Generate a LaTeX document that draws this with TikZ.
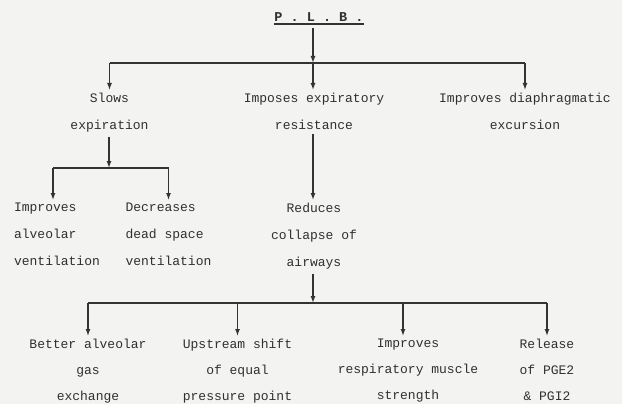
\documentclass[tikz,border=0pt]{standalone}
\usepackage{fontspec}
\setmonofont{Liberation Mono}
\usetikzlibrary{arrows.meta}
\definecolor{bg}{HTML}{F3F3F1}
\definecolor{ink}{HTML}{333333}
\definecolor{txt}{HTML}{303030}
\begin{document}
\begin{tikzpicture}[x=1pt,y=-1pt,
  lbl/.style={font=\ttfamily\fontsize{13}{27}\selectfont, text=txt, inner sep=0pt, anchor=north},
  low/.style={font=\ttfamily\fontsize{13}{26}\selectfont},
  ln/.style={draw=ink, line width=1.3pt},
  arrbar/.style={ln, -{Latex[length=7pt,width=5pt]}},
  arr/.style={arrbar, shorten >=3pt}]
\fill[bg] (0,0) rectangle (622,404);
\useasboundingbox (0,0) rectangle (622,404);

% title
\node[lbl, anchor=center, font=\ttfamily\bfseries\fontsize{13.5}{16}\selectfont] (plb) at (319,17) {P . L . B .};
\draw[ln] ([yshift=-2.5pt]plb.south west) -- ([yshift=-2.5pt]plb.south east);

% row 1
\node[lbl, align=center] (slows) at (109.5,93) {Slows\\expiration};
\node[lbl, align=center] (imposes) at (314,93) {Imposes expiratory\\resistance};
\node[lbl, align=center] (diaph) at (525,93) {Improves diaphragmatic\\excursion};

% row 2
\node[lbl, align=left] (alv) at (57,203) {Improves\\alveolar\\ventilation};
\node[lbl, align=left] (dead) at (168.5,203) {Decreases\\dead space\\ventilation};
\node[lbl, align=center] (reduces) at (314,203) {Reduces\\collapse of\\airways};

% row 3
\node[lbl, low, align=center] (better) at (88,339) {Better alveolar\\gas\\exchange};
\node[lbl, low, align=center] (upstream) at (237.5,339) {Upstream shift\\of equal\\pressure point};
\node[lbl, low, align=center] (resp) at (408,339) {Improves\\respiratory muscle\\strength};
\node[lbl, low, align=center] (release) at (547,339) {Release\\of PGE2\\\& PGI2};

% bar coordinates
\coordinate (b1) at (313,63);
\coordinate (b2) at (109,168);
\coordinate (b3) at (313,303);
\path (plb.south) ++(0,6) coordinate (plbs);
\path ([xshift=-4pt]alv.north) coordinate (alvT);
\path ([xshift=-5pt]resp.north) coordinate (respT);

% title to bar 1
\draw[arrbar] (plbs -| b1) -- (b1);
\draw[ln] (b1 -| slows.north) -- (b1 -| diaph.north);
\draw[arr] (b1 -| slows.north) -- (slows.north);
\draw[arr] (b1) -- (b1 |- imposes.north);
\draw[arr] (b1 -| diaph.north) -- (diaph.north);

% slows to bar 2
\draw[arrbar, shorten <=4pt] (slows.south -| b2) -- (b2);
\draw[ln] (b2 -| alvT) -- (b2 -| dead.north);
\draw[arr] (b2 -| alvT) -- (alvT);
\draw[arr] (b2 -| dead.north) -- (dead.north);

% imposes to reduces
\draw[arr, shorten <=4pt] (imposes.south -| b1) -- (reduces.north -| b1);

% reduces to bar 3
\draw[arrbar, shorten <=4pt] (reduces.south -| b3) -- (b3);
\draw[ln] (b3 -| better.north) -- (b3 -| release.north);
\draw[arr] (b3 -| better.north) -- (better.north);
\draw[arr] (b3 -| upstream.north) -- (upstream.north);
\draw[arr] (b3 -| respT) -- (respT);
\draw[arr] (b3 -| release.north) -- (release.north);
\end{tikzpicture}
\end{document}
